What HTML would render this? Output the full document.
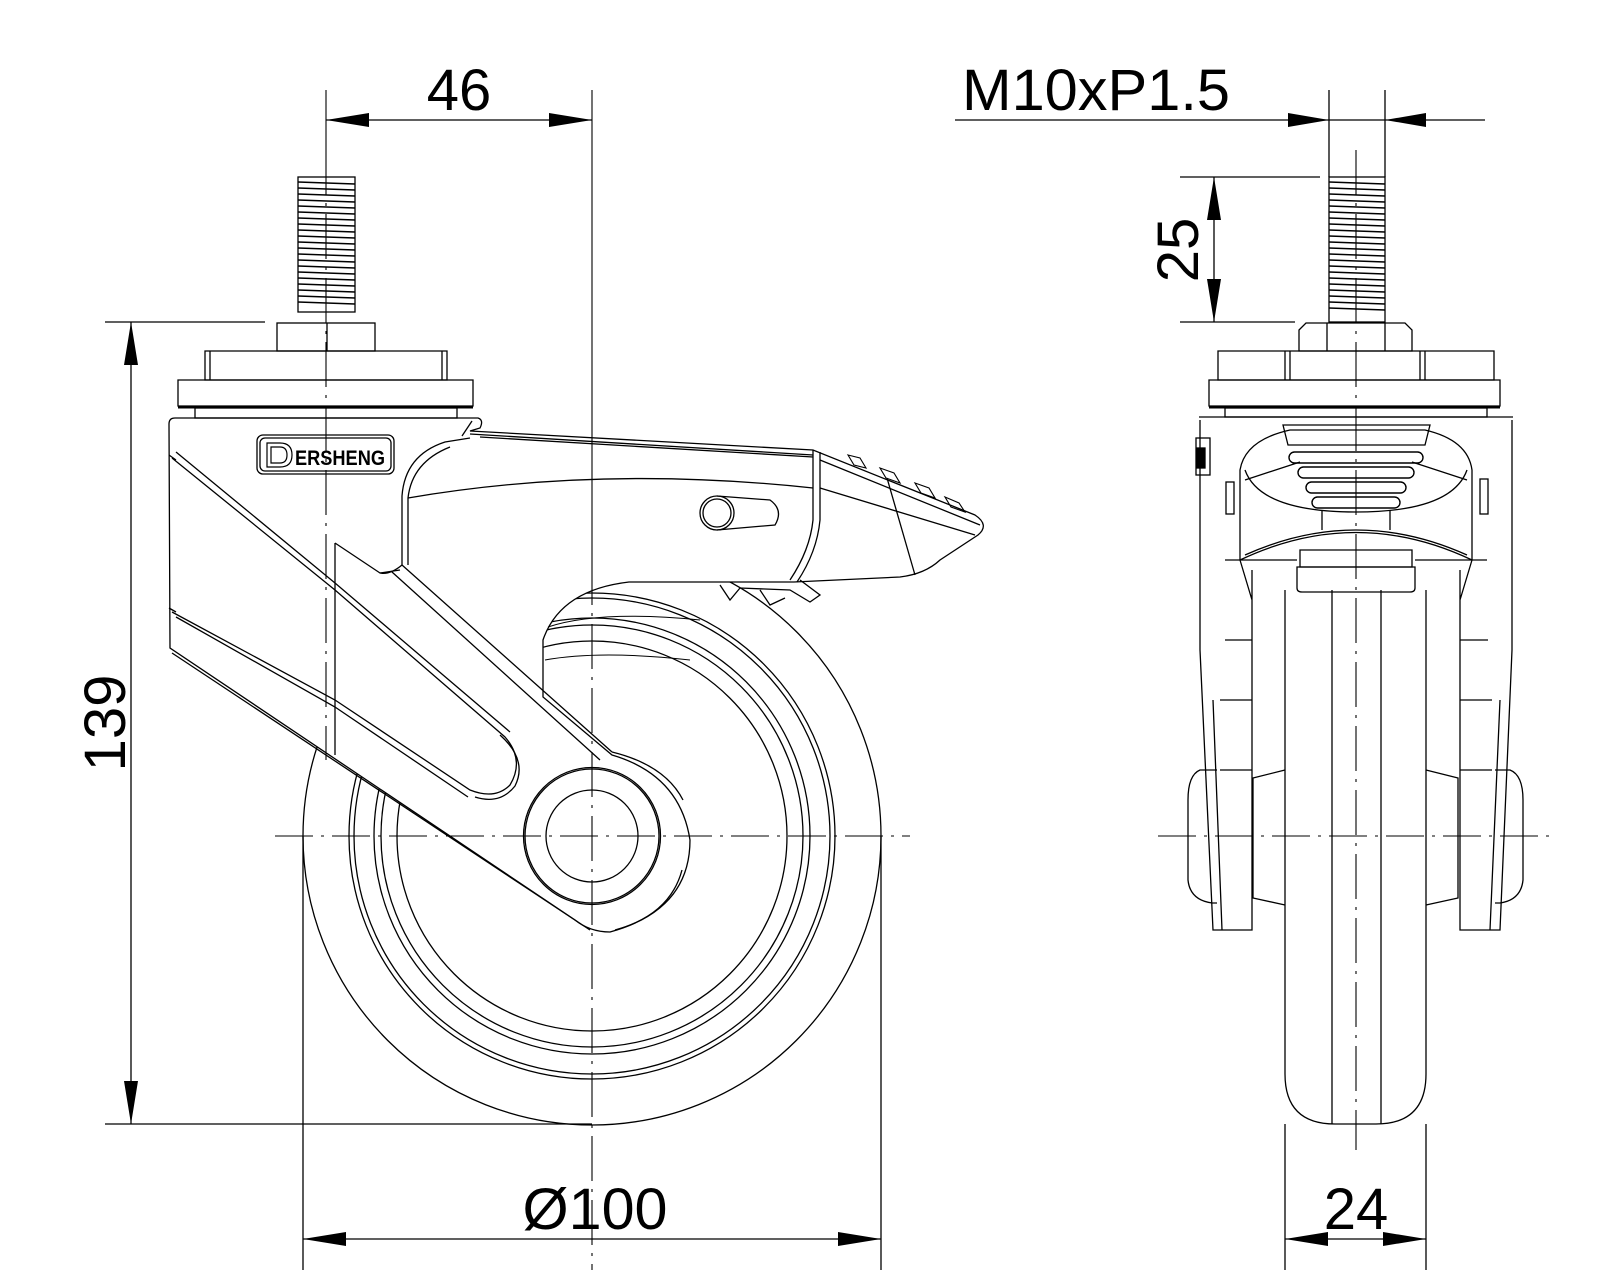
<!DOCTYPE html>
<html><head><meta charset="utf-8"><style>
html,body{margin:0;padding:0;background:#fff;}
svg{display:block;}
text{font-family:"Liberation Sans",sans-serif;fill:#000;}
</style></head><body>
<svg width="1600" height="1280" viewBox="0 0 1600 1280" xmlns="http://www.w3.org/2000/svg">
<rect width="1600" height="1280" fill="#fff"/>
<g fill="none" stroke="#000" stroke-width="1.3">

<!-- ===== LEFT VIEW ===== -->
<circle cx="592" cy="836" r="289"/>
<circle cx="592" cy="836" r="243"/>
<circle cx="592" cy="836" r="238"/>
<circle cx="592" cy="836" r="218"/>
<circle cx="592" cy="836" r="211"/>
<circle cx="592" cy="836" r="195"/>

<path fill="#fff" d="M169,424 Q169,418 175,418 L478,418 Q484,420 480,428 L470,431 L813,450 L975,515 Q990,525 978,535 L940,560 Q925,574 900,577 L794,582 L629,582 Q560,590 543,640 L543,697 L612,755 Q680,775 690,840 Q690,910 610,932 Q590,932 575,920 L170,648 Z"/>
<path d="M169,455 L176,460 M169,608 L176,612"/>
<path d="M172,458 L335,590 L505,737 Q525,760 510,785 Q495,800 470,790 L335,700 L172,612"/>
<path d="M176,452 L335,583 L510,732"/>
<path d="M176,617 L335,707 L468,797"/>
<path d="M500,735 Q528,760 515,786 Q500,805 475,797" />
<path d="M172,653 L590,930"/>
<path d="M335,543 L335,755 M335,543 L380,573 L400,570"/>
<path d="M402,565 L612,752 M392,572 L600,760 M402,565 Q390,575 380,573"/>
<path d="M402,565 L402,496 Q405,455 445,442 L470,438 M408,565 L408,498 Q412,462 450,447"/>
<path d="M408,498 Q600,465 813,488"/>
<path d="M470,434 L813,455 M480,437 L813,457"/>
<path d="M462,436 L472,421"/>
<path d="M813,450 L813,520 Q810,550 790,580 M820,452 L820,520 Q817,552 797,582"/>
<path d="M820,460 L980,525 M820,488 L975,535"/>
<path d="M887,478 L915,575"/>
<g stroke-width="1.1">
<path d="M848,455 l12,3 l6,10 l-12,-3z M880,468 l14,5 l6,10 l-14,-5z M915,483 l14,5 l6,10 l-14,-5z M945,497 l14,6 l6,9 l-14,-5z"/>
</g>
<circle cx="717" cy="513" r="17"/>
<circle cx="717" cy="513" r="14"/>
<path d="M717,496 L770,500 Q784,510 775,525 L717,530"/>
<path d="M720,585 L730,600 L740,588 L790,590 L810,602 L820,595 L800,580 M760,590 L770,605 L785,598"/>
<path d="M548,627 Q600,610 700,620 M545,660 Q600,650 690,660" stroke-width="1"/>
<circle cx="592" cy="836" r="46"/>
<circle cx="592" cy="836" r="67"/>
<circle cx="592" cy="836" r="68.5"/>
<path d="M612,752 Q665,765 683,800 M615,930 Q670,915 682,870" />

<!-- bolt left -->
<rect x="298" y="177" width="57" height="135" fill="#fff"/>
<g stroke-width="1.4">
<path d="M298,182l57,2M298,188l57,2M298,194l57,2M298,200l57,2M298,206l57,2M298,212l57,2M298,218l57,2M298,224l57,2M298,230l57,2M298,236l57,2M298,242l57,2M298,248l57,2M298,254l57,2M298,260l57,2M298,266l57,2M298,272l57,2M298,278l57,2M298,284l57,2M298,290l57,2M298,296l57,2M298,302l57,2"/>
</g>
<rect x="277" y="323" width="98" height="28"/>
<path d="M327,323v28"/>
<path d="M205,351 H447 V380 H205 Z M210,351v29 M442,351v29"/>
<path d="M178,380 H473 V406 H178 Z"/>
<path d="M178,407 H473" stroke-width="3"/>
<rect x="195" y="408" width="262" height="10"/>
<rect x="257" y="435" width="137" height="39" rx="6"/>
<rect x="260" y="438" width="131" height="33" rx="5"/>
<path d="M267,443 H280 Q292,443 292,455 Q292,467 280,467 H267 Z M271,447 H280 Q287,447 287,455 Q287,463 280,463 H271 Z" stroke-width="1.2"/>
</g>
<text x="295" y="465" font-size="21" font-weight="bold" textLength="90" lengthAdjust="spacingAndGlyphs">ERSHENG</text>

<!-- ===== RIGHT VIEW ===== -->
<g fill="none" stroke="#000" stroke-width="1.3">
<path d="M1285,590 V1074 Q1285,1124 1335,1124 H1376 Q1426,1124 1426,1074 V590"/>
<path d="M1332,590 V1124 M1381,590 V1124"/>
<path d="M1285,770 L1253,778 V898 L1285,905 M1426,770 L1458,778 V898 L1426,905"/>
<path d="M1200,420 L1200,650 L1213,930 H1252 V570 M1252,600 L1240,560"/>
<path d="M1512,420 L1512,650 L1500,930 H1460 V570 M1460,600 L1472,560"/>
<path d="M1213,700 L1222,930 M1500,700 L1490,930"/>
<path d="M1220,700 H1252 M1460,700 H1492 M1220,770 H1252 M1460,770 H1492 M1225,640 H1252 M1460,640 H1488"/>
<path d="M1217,770 H1200 Q1188,775 1188,800 V880 Q1190,900 1212,903 H1217"/>
<path d="M1495,770 H1510 Q1523,775 1523,800 V880 Q1521,900 1500,903 H1495"/>
<path d="M1240,560 L1240,470 Q1245,440 1290,430 L1425,430 Q1468,440 1472,470 L1472,560"/>
<path d="M1283,425 H1430 L1425,445 H1288 Z"/>
<path d="M1245,470 Q1260,512 1356,512 Q1452,512 1467,470"/>
<path d="M1245,480 L1300,462 M1467,480 L1412,462"/>
<g stroke-width="1.4">
<rect x="1289" y="452" width="134" height="11" rx="5.5"/>
<rect x="1298" y="467" width="116" height="11" rx="5.5"/>
<rect x="1306" y="482" width="100" height="11" rx="5.5"/>
<rect x="1312" y="497" width="88" height="11" rx="5.5"/>
</g>
<path d="M1322,510 V530 M1390,510 V530"/>
<path d="M1240,560 Q1356,505 1472,560"/>
<path d="M1245,555 Q1356,505 1467,555"/>
<path d="M1300,550 H1412 V567 H1300 Z"/>
<path d="M1297,567 H1415 V588 Q1415,592 1410,592 H1302 Q1297,592 1297,588 Z"/>
<path d="M1225,560 H1297 M1415,560 H1487"/>
<rect x="1226" y="482" width="8" height="32"/>
<rect x="1480" y="479" width="8" height="35"/>
<rect x="1196" y="438" width="14" height="37"/>
<rect x="1197" y="448" width="8" height="20" fill="#000"/>
<rect x="1329" y="177" width="56" height="145" fill="#fff"/>
</g>
<g fill="none" stroke="#000" stroke-width="1.4">
<path d="M1329,182l56,2M1329,188l56,2M1329,194l56,2M1329,200l56,2M1329,206l56,2M1329,212l56,2M1329,218l56,2M1329,224l56,2M1329,230l56,2M1329,236l56,2M1329,242l56,2M1329,248l56,2M1329,254l56,2M1329,260l56,2M1329,266l56,2M1329,272l56,2M1329,278l56,2M1329,284l56,2M1329,290l56,2M1329,296l56,2M1329,302l56,2M1329,308l56,2"/>
</g>
<g fill="none" stroke="#000" stroke-width="1.3">
<path d="M1299,330 L1306,323 H1405 L1412,330 V351 H1299 Z M1327,323v28 M1385,323v28"/>
<path d="M1218,351 H1494 V380 H1218 Z M1285,351v29 M1290,351v29 M1420,351v29 M1425,351v29"/>
<path d="M1209,380 H1500 V406 H1209 Z"/>
<path d="M1209,407 H1500" stroke-width="3"/>
<rect x="1225" y="408" width="262" height="9"/>
<path d="M1199,417 H1513"/>
</g>

<!-- ===== CENTER LINES ===== -->
<g fill="none" stroke="#000" stroke-width="1.1">
<path d="M326,90 V150" />
<path d="M326,150 V760" stroke-dasharray="45,8,3,8"/>
<path d="M592,90 V560"/>
<path d="M592,560 V1270" stroke-dasharray="45,8,3,8"/>
<path d="M275,836 H910" stroke-dasharray="38,8,3,8"/>
<path d="M1356,150 V1150" stroke-dasharray="45,8,3,8"/>
<path d="M1158,836 H1555" stroke-dasharray="38,8,3,8"/>
</g>

<!-- ===== DIMENSIONS ===== -->
<g fill="none" stroke="#000" stroke-width="1.3">
<path d="M326,120 H592"/>
<path d="M955,120 H1485 M1329,90 V177 M1385,90 V177"/>
<path d="M1180,177 H1320 M1180,322 H1295 M1214,177 V322"/>
<path d="M105,322 H265 M105,1124 H592 M131,322 V1124"/>
<path d="M303,836 V1270 M881,836 V1270 M303,1239 H881"/>
<path d="M1285,1124 V1270 M1426,1124 V1270 M1285,1239 H1426"/>
</g>
<g fill="#000" stroke="none">
<path d="M326,120 L369,113 L369,127Z M592,120 L549,113 L549,127Z"/>
<path d="M1329,120 L1288,113 L1288,127Z M1385,120 L1426,113 L1426,127Z"/>
<path d="M1214,177 L1207,220 L1221,220Z M1214,322 L1207,279 L1221,279Z"/>
<path d="M131,322 L124,365 L138,365Z M131,1124 L124,1081 L138,1081Z"/>
<path d="M303,1239 L346,1232 L346,1246Z M881,1239 L838,1232 L838,1246Z"/>
<path d="M1285,1239 L1328,1232 L1328,1246Z M1426,1239 L1383,1232 L1383,1246Z"/>
</g>
<text x="459" y="110" font-size="58" text-anchor="middle">46</text>
<text x="962" y="110" font-size="58" textLength="268" lengthAdjust="spacingAndGlyphs">M10xP1.5</text>
<text x="595" y="1229" font-size="58" text-anchor="middle" textLength="145" lengthAdjust="spacingAndGlyphs">Ø100</text>
<text x="1356" y="1229" font-size="58" text-anchor="middle">24</text>
<text transform="translate(1198,250) rotate(-90)" font-size="58" text-anchor="middle">25</text>
<text transform="translate(125,723) rotate(-90)" font-size="58" text-anchor="middle">139</text>
</svg>
</body></html>
